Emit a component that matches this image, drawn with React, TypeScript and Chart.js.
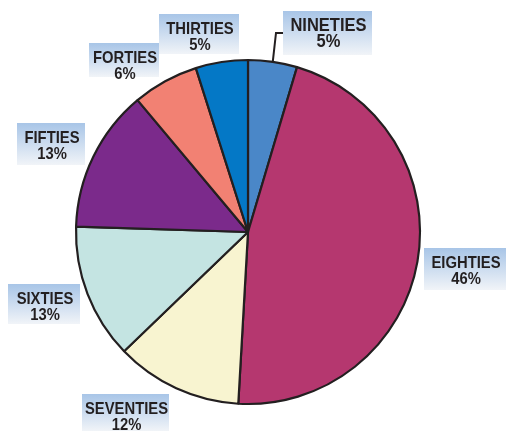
import React, { useEffect, useRef } from "react";
import { Chart, registerables } from "chart.js";

Chart.register(...registerables);

const categories = ["NINETIES", "EIGHTIES", "SEVENTIES", "SIXTIES", "FIFTIES", "FORTIES", "THIRTIES"];
const shares = [4.6, 46.3, 11.9, 12.7, 13.4, 6.2, 4.9];
const percentLabels = ["5%", "46%", "12%", "13%", "13%", "6%", "5%"];
const sliceColors = ["#4a87c8", "#b5376f", "#f8f4d0", "#c4e4e2", "#7b2a8b", "#f28173", "#0478c6"];

// label box layout (x, y, w, h, font size)
const labelBoxes = [
  { x: 283, y: 11, w: 89, h: 44, size: 16.5 },
  { x: 424, y: 248, w: 82, h: 42, size: 14.8 },
  { x: 82, y: 394, w: 87, h: 37, size: 14.8 },
  { x: 8, y: 284, w: 72, h: 40, size: 14.8 },
  { x: 17, y: 123, w: 68, h: 42, size: 14.8 },
  { x: 89, y: 43, w: 70, h: 34, size: 14.8 },
  { x: 159, y: 14, w: 80, h: 40, size: 14.8 },
];

const labelPlugin = {
  id: "boxLabels",
  afterDraw(chart: any) {
    const ctx = chart.ctx as CanvasRenderingContext2D;
    const meta = chart.getDatasetMeta(0);
    ctx.save();
    // leader line for first slice
    const arc0 = meta.data[0] as any;
    const p0 = arc0.getProps(["x", "y", "startAngle", "endAngle", "outerRadius"], true);
    const mid = (p0.startAngle + p0.endAngle) / 2;
    const sx = p0.x + Math.cos(mid) * p0.outerRadius;
    const sy = p0.y + Math.sin(mid) * p0.outerRadius;
    const b0 = labelBoxes[0];
    ctx.strokeStyle = "#231f20";
    ctx.lineWidth = 2;
    ctx.beginPath();
    ctx.moveTo(sx, sy);
    ctx.lineTo(b0.x - 7, b0.y + 22);
    ctx.lineTo(b0.x, b0.y + 22);
    ctx.stroke();

    categories.forEach((name, i) => {
      const b = labelBoxes[i];
      const g = ctx.createLinearGradient(0, b.y, 0, b.y + b.h);
      g.addColorStop(0, "#a8c5e7");
      g.addColorStop(1, "#f1f4f8");
      ctx.fillStyle = g;
      ctx.fillRect(b.x, b.y, b.w, b.h);
      ctx.fillStyle = "#231f20";
      ctx.textAlign = "center";
      ctx.textBaseline = "alphabetic";
      ctx.font = `bold ${b.size}px "Liberation Sans", Arial, sans-serif`;
      const cx = b.x + b.w / 2 + 1;
      const lines: [string, number][] = [
        [name, b.y + 19.5],
        [percentLabels[i], b.y + 36],
      ];
      lines.forEach(([t, by]) => {
        ctx.save();
        ctx.translate(cx, by);
        ctx.scale(1, 1.1);
        ctx.fillText(t, 0, 0);
        ctx.restore();
      });
    });
    ctx.restore();
  },
};

export default function App() {
  const ref = useRef<HTMLCanvasElement>(null);
  useEffect(() => {
    document.body.style.margin = "0";
    const chart = new Chart(ref.current!, {
      type: "pie",
      data: {
        labels: categories,
        datasets: [
          {
            data: shares,
            backgroundColor: sliceColors,
            borderColor: "#231f20",
            borderWidth: 2.2,
          },
        ],
      },
      options: {
        responsive: false,
        animation: false,
        radius: 172,
        layout: { padding: { left: 0, right: 10, top: 41, bottom: 8 } },
        plugins: { legend: { display: false }, tooltip: { enabled: false } },
      } as any,
      plugins: [labelPlugin],
    });
    return () => chart.destroy();
  }, []);
  return (
    <div style={{ width: 506, height: 431, background: "#fff" }}>
      <canvas ref={ref} width={506} height={431} />
    </div>
  );
}
